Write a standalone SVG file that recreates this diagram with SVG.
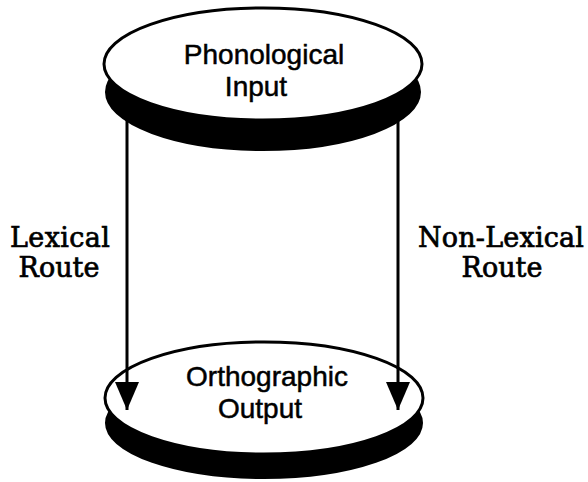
<svg xmlns="http://www.w3.org/2000/svg" width="588" height="482" viewBox="0 0 588 482">
<style>
.shadow{fill:#000;stroke:#000;stroke-width:2}
.face{fill:#fff;stroke:#000;stroke-width:3}
.sans{font-family:"Liberation Sans",Arial,sans-serif;font-size:28px;fill:#000;stroke:#000;stroke-width:0.5;text-anchor:middle}
.serif{font-family:"DejaVu Serif","Liberation Serif",serif;font-size:27px;fill:#000;stroke:#000;stroke-width:0.7;text-anchor:middle}
.conn{stroke:#000;stroke-width:3;fill:none}
</style>
<defs>
<marker id="arrow" markerUnits="userSpaceOnUse" markerWidth="30" markerHeight="26" viewBox="0 0 30 26" refX="28" refY="13" orient="auto">
<polygon points="0,1 0,25 28,13" fill="#000"/>
</marker>
</defs>
<rect width="588" height="482" fill="#fff"/>
<g id="orthographic-output">
<ellipse class="shadow" cx="264" cy="423" rx="158" ry="55"/>
<ellipse class="face" cx="264" cy="398" rx="159" ry="56"/>
<text class="sans" x="267" y="386">Orthographic</text>
<text class="sans" x="260" y="418">Output</text>
</g>
<g id="connectors">
<line class="conn" x1="127" y1="110" x2="127" y2="410" marker-end="url(#arrow)"/>
<line class="conn" x1="398" y1="110" x2="398" y2="410" marker-end="url(#arrow)"/>
</g>
<g id="phonological-input">
<ellipse class="shadow" cx="263" cy="92" rx="157" ry="58"/>
<ellipse class="face" cx="263" cy="64" rx="159" ry="56"/>
<text class="sans" x="264" y="64">Phonological</text>
<text class="sans" x="256" y="96">Input</text>
</g>
<g id="labels">
<text class="serif" x="60" y="247" textLength="100">Lexical</text>
<text class="serif" x="59" y="277">Route</text>
<text class="serif" x="501" y="247" textLength="166">Non-Lexical</text>
<text class="serif" x="502" y="277">Route</text>
</g>
</svg>
